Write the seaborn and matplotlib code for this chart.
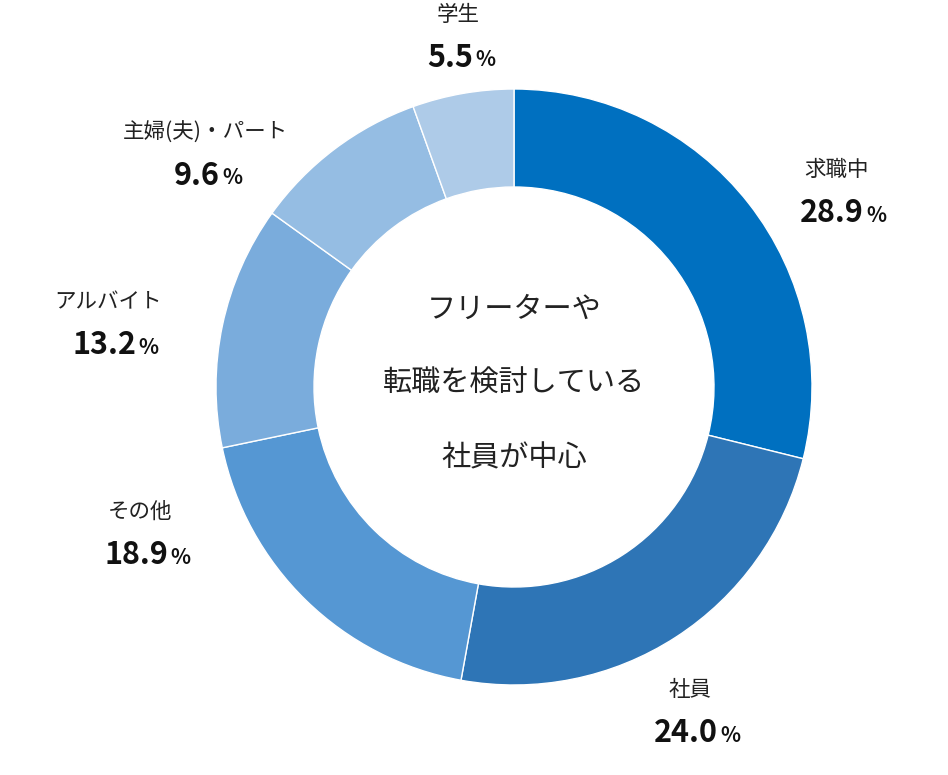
import matplotlib
matplotlib.use("Agg")
import matplotlib.pyplot as plt
import seaborn as sns

sns.set_theme(style="white")
plt.rcParams["font.family"] = "Noto Sans CJK JP"

categories = ["求職中", "社員", "その他", "アルバイト", "主婦(夫)・パート", "学生"]
values = [28.9, 24.0, 18.9, 13.2, 9.6, 5.5]
colors = ["#0070c0", "#2e75b6", "#5597d3", "#7aacdc", "#95bde3", "#aecbe8"]
# label anchor positions (pixels, from top)
label_pos = [(836, 170), (690, 690), (140, 512), (108, 302), (205, 133), (458, 15)]
center_lines = ["フリーターや", "転職を検討している", "社員が中心"]

W, H = 948, 775
fig = plt.figure(figsize=(W / 100, H / 100), dpi=100)
ax = fig.add_axes([0, 0, 1, 1])
ax.set_xlim(0, W)
ax.set_ylim(0, H)
ax.set_aspect("equal")
ax.axis("off")

cx, cy, R = 514, H - 387, 298
ax.pie(values, colors=colors, startangle=90, counterclock=False, center=(cx, cy),
       radius=R, wedgeprops=dict(width=R - 200, edgecolor="white", linewidth=1), frame=False)
ax.set_xlim(0, W)
ax.set_ylim(0, H)

for cat, v, (x, y) in zip(categories, values, label_pos):
    ax.text(x, H - y, cat, ha="center", va="center", fontsize=15.5, color="#222")
    s = f"{v:.1f}"
    off = 28 if len(s) == 4 else 15
    ax.text(x + off, H - y - 43, s, ha="right", va="center", fontsize=22, fontweight="bold", color="#111")
    ax.text(x + off + 2, H - y - 45, "%", ha="left", va="center", fontsize=15, fontweight="bold", color="#111")

for i, line in enumerate(center_lines):
    ax.text(cx, H - (310 + 74 * i), line, ha="center", va="center", fontsize=21, color="#222")

fig.savefig("out.png", dpi=100)
